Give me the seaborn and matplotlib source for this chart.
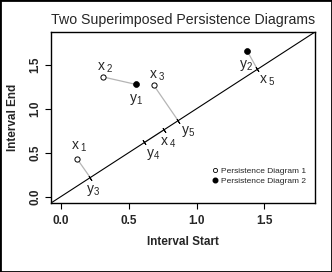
import numpy as np
import pandas as pd
import matplotlib
matplotlib.use("Agg")
import matplotlib.pyplot as plt
import matplotlib.patches as mpatches
from matplotlib.lines import Line2D
import seaborn as sns

# -----------------------------
# Data
# -----------------------------
pd1_start = [0.12, 0.314, 0.686]      # x1, x2, x3 (open circles)
pd1_end = [0.43, 1.36, 1.264]
pd2_start = [0.554, 1.374]            # y1, y2 (filled)
pd2_end = [1.276, 1.652]
diag_pos = [0.217, 0.616, 0.757, 0.864, 1.448]   # y3, y4, x4, y5, x5 on the diagonal

point_labels = ["x_{1}", "x_{2}", "x_{3}", "y_{1}", "y_{2}"]
diag_labels = ["y_{3}", "y_{4}", "x_{4}", "y_{5}", "x_{5}"]

# matching: pairs of (start, end) points
match_a = [(0.12, 0.43), (0.314, 1.36), (0.686, 1.264), (0.757, 0.757), (1.448, 1.448)]
match_b = [(0.217, 0.217), (0.554, 1.276), (0.864, 0.864), (0.616, 0.616), (1.374, 1.652)]

lims = (-0.072, 1.872)
ticks = [0.0, 0.5, 1.0, 1.5]
tick_labels = ["0.0", "0.5", "1.0", "1.5"]


def mlabel(lab):
    base, sub = lab.split("_")
    gap = r"\," if base == "x" else ""
    return r"$\mathrm{" + base + "}" + gap + "_" + sub + "$"


# -----------------------------
# Style
# -----------------------------
sns.set_style("ticks")
plt.rcParams["font.family"] = ["Liberation Sans", "DejaVu Sans"]
plt.rcParams["mathtext.fontset"] = "custom"
plt.rcParams["mathtext.rm"] = "Liberation Sans"

fig = plt.figure(figsize=(3.32, 2.72), dpi=100)
ax = fig.add_axes([51 / 332, 1 - 203 / 272, 264 / 332, 171 / 272])

# gray matching segments
for (ax_, ay_), (bx_, by_) in zip(match_a, match_b):
    ax.plot([ax_, bx_], [ay_, by_], color="#b5b5b5", lw=0.9, zorder=1)

# diagonal
ax.plot(lims, lims, color="black", lw=0.8, zorder=2)

# tick marks on the diagonal, perpendicular on screen
ang = np.degrees(np.arctan2(171, 264))
ax.scatter(diag_pos, diag_pos, marker=(2, 2, ang), s=12, color="black",
           linewidths=0.7, zorder=3)

# persistence diagram points
df1 = pd.DataFrame({"start": pd1_start, "end": pd1_end})
df2 = pd.DataFrame({"start": pd2_start, "end": pd2_end})
sns.scatterplot(data=df1, x="start", y="end", ax=ax, s=14, marker="o",
                facecolor="white", edgecolor="black", linewidth=0.7, zorder=4)
sns.scatterplot(data=df2, x="start", y="end", ax=ax, s=18, marker="o",
                color="black", edgecolor="black", linewidth=0.5, zorder=4)

# labels
pt_offsets = [(1.5, 8.5), (1.5, 7), (2.5, 7), (0, -10.5), (-1, -10)]
for xv, yv, lab, off in zip(pd1_start + pd2_start, pd1_end + pd2_end, point_labels, pt_offsets):
    ax.annotate(mlabel(lab), (xv, yv), xytext=off, textcoords="offset points",
                ha="center", va="center", fontsize=10)
dg_offsets = [(2, -9.5), (6, -8.5), (3.5, -9), (7.5, -8), (7, -8)]
for v, lab, off in zip(diag_pos, diag_labels, dg_offsets):
    ax.annotate(mlabel(lab), (v, v), xytext=off, textcoords="offset points",
                ha="center", va="center", fontsize=10)

ax.set_xlim(lims)
ax.set_ylim(lims)
ax.set_xticks(ticks)
ax.set_yticks(ticks)
ax.set_xticklabels(tick_labels, fontweight="bold", fontsize=8.5)
ax.set_yticklabels(tick_labels, fontweight="bold", fontsize=8.5,
                   rotation=90, va="center")
ax.tick_params(length=4.3, width=0.8, color="black")
ax.tick_params(axis="x", pad=4.3)
ax.tick_params(axis="y", pad=2.8)
for sp in ax.spines.values():
    sp.set_color("black")
    sp.set_linewidth(1.0)

ax.set_xlabel("Interval Start", fontweight="bold", fontsize=8.5, va="center")
ax.xaxis.set_label_coords(0.5, (203 - 242) / 171)
ax.set_ylabel("Interval End", fontweight="bold", fontsize=8.5, va="center")
ax.yaxis.set_label_coords((13 - 51) / 264, 0.5)
ax.set_title("Two Superimposed Persistence Diagrams", fontsize=10.2, pad=6)

handles = [
    Line2D([], [], marker="o", ls="", markersize=3, markerfacecolor="white",
           markeredgecolor="black", markeredgewidth=0.6),
    Line2D([], [], marker="o", ls="", markersize=3.3, color="black"),
]
ax.legend(handles, ["Persistence Diagram 1", "Persistence Diagram 2"],
          loc="lower right", bbox_to_anchor=(0.993, 0.06), frameon=False,
          fontsize=6, handlelength=0.8, handletextpad=0.3, labelspacing=0.3)

# outer frame around the whole picture
fig.patches.append(mpatches.Rectangle((0, 0), 1, 1, transform=fig.transFigure,
                                      fill=False, lw=2, edgecolor="black"))

fig.savefig("out.png", dpi=100)
